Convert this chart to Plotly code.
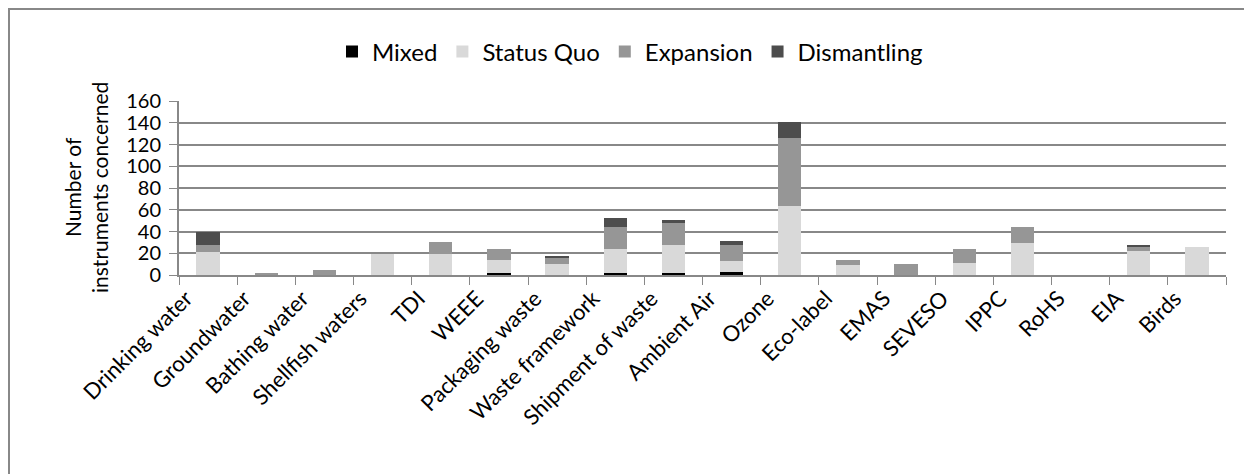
import plotly.graph_objects as go

categories = ["Drinking water", "Groundwater", "Bathing water", "Shellfish waters", "TDI", "WEEE",
              "Packaging waste", "Waste framework", "Shipment of waste", "Ambient Air", "Ozone",
              "Eco-label", "EMAS", "SEVESO", "IPPC", "RoHS", "EIA", "Birds"]
mixed =       [0, 0, 0, 0, 0, 2, 0, 2, 2, 3, 0, 0, 0, 0, 0, 0, 0, 0]
status_quo =  [21, 0, 0, 19, 19, 12, 10, 22, 26, 10, 63, 9, 0, 11, 29, 0, 22, 26]
expansion =   [7, 2, 5, 0, 11, 10, 6, 20, 20, 15, 63, 5, 10, 13, 15, 0, 4, 0]
dismantling = [12, 0, 0, 0, 0, 0, 1, 8, 3, 3, 15, 0, 0, 0, 0, 0, 2, 0]

series = [("Mixed", mixed, "#000000"), ("Status Quo", status_quo, "#d9d9d9"),
          ("Expansion", expansion, "#969696"), ("Dismantling", dismantling, "#4d4d4d")]

FONT = "Lato"
fig = go.Figure()
for name, vals, col in series:
    fig.add_trace(go.Bar(x=categories, y=vals, name=name, marker=dict(color=col, line=dict(width=0))))

# page body adds an 8px offset; figure coordinates below are screen pixels minus 8
OFF = 8
W, H = 1244, 466
L, R, T, B = 179 - OFF, 1252 - 1226, 101 - OFF, 474 - 275
pw, ph = W - L - R, H - T - B

def px_x(p):
    return (p - OFF - L) / pw

def px_y(p):
    return (H - B - (p - OFF)) / ph

fig.update_layout(
    width=W, height=H, barmode="stack", bargap=0.6,
    margin=dict(l=L, r=R, t=T, b=B),
    paper_bgcolor="white", plot_bgcolor="white",
    font=dict(family=FONT, color="#000000", size=20),
    legend=dict(orientation="h", x=px_x(332), xanchor="left", y=px_y(52), yanchor="middle",
                font=dict(size=24, family=FONT), traceorder="normal", itemwidth=30),
    xaxis=dict(type="category", tickangle=-45, tickson="boundaries", ticks="outside", ticklen=8,
               tickcolor="#888888", showline=True, linecolor="#888888", linewidth=2,
               tickfont=dict(size=22, family=FONT), showgrid=False, ticklabelshift=-22),
    yaxis=dict(range=[0, 160], dtick=20, ticks="outside", ticklen=8, tickcolor="#888888",
               showline=True, linecolor="#888888", linewidth=2, showgrid=True,
               gridcolor="#888888", gridwidth=2, zeroline=False, ticklabelstandoff=4,
               tickfont=dict(size=20, family=FONT)),
    showlegend=True,
)

fig.add_annotation(xref="paper", yref="paper", x=px_x(86), y=0.5, text="Number of<br>instruments concerned",
                   textangle=-90, showarrow=False, font=dict(size=21, family=FONT), xanchor="center",
                   yanchor="middle")

fig.add_shape(type="rect", xref="paper", yref="paper", x0=px_x(9), x1=px_x(1290), y0=px_y(520), y1=px_y(9),
              line=dict(color="#888888", width=2), fillcolor="rgba(0,0,0,0)", layer="below")

fig.write_html("out.html")
